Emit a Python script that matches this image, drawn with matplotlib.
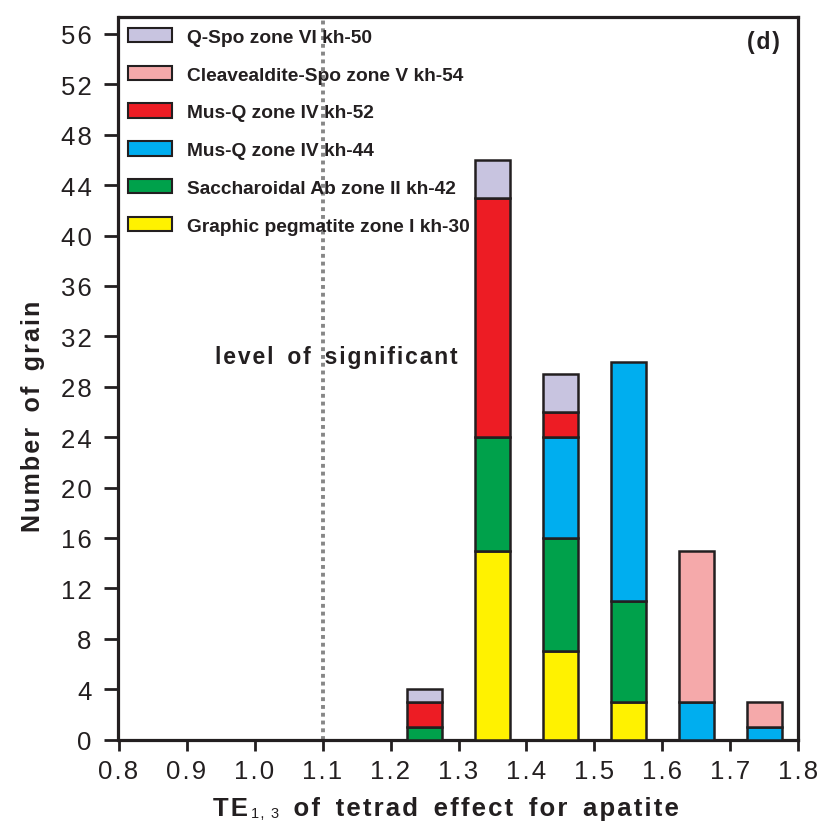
import numpy as np
import matplotlib
matplotlib.use('Agg')
import matplotlib.pyplot as plt
from matplotlib.patches import Patch

plt.rcParams['font.family'] = ['Liberation Sans', 'DejaVu Sans']

# ── data ──
bins = [1.25, 1.35, 1.45, 1.55, 1.65, 1.75]
kh30 = [0, 15, 7, 3, 0, 0]    # Graphic pegmatite zone I
kh42 = [1, 9, 9, 8, 0, 0]     # Saccharoidal Ab zone II
kh44 = [0, 0, 8, 19, 3, 1]    # Mus-Q zone IV kh-44
kh52 = [2, 19, 2, 0, 0, 0]    # Mus-Q zone IV kh-52
kh54 = [0, 0, 0, 0, 12, 2]    # Cleavealdite-Spo zone V
kh50 = [1, 3, 3, 0, 0, 0]     # Q-Spo zone VI

series = [kh30, kh42, kh44, kh52, kh54, kh50]
labels = ['Graphic pegmatite zone I kh-30',
          'Saccharoidal Ab zone II kh-42',
          'Mus-Q zone IV kh-44',
          'Mus-Q zone IV kh-52',
          'Cleavealdite-Spo zone V kh-54',
          'Q-Spo zone VI kh-50']
colors = ['#FFF200', '#00A14B', '#00AEEF', '#ED1C24', '#F5A9AA', '#C8C4E0']
edge = '#231F20'
ink = '#231F20'

# 字间距: 用细空格模拟 letter spacing
HAIR, SIXTH = '\u200a', '\u2006'


def track(s, word=SIXTH):
    return HAIR.join(s).replace(' ', ' ' + word)


W, H = 820, 829
fig = plt.figure(figsize=(W / 100, H / 100), dpi=100)
ax = fig.add_axes([118.5 / W, (H - 740.5) / H, 680 / W, (740.5 - 17.8) / H])

x = np.array(bins)
bottom = np.zeros(len(bins))
for vals, col in zip(series, colors):
    v = np.array(vals, dtype=float)
    m = v > 0
    ax.bar(x[m], v[m], width=0.051, bottom=bottom[m], color=col,
           edgecolor=edge, linewidth=1.8, zorder=3)
    bottom += v

# 显著性水平线
ax.axvline(1.1, color='#878787', linestyle=(0, (1, 1)), linewidth=2.8, zorder=1)
ax.text(1.121, 30.4, track('level of significant'), fontsize=16.5,
        fontweight='bold', ha='center', va='center', color=ink, zorder=4)
ax.text(0.9728, 0.982, track('(d)'), transform=ax.transAxes,
        fontsize=16.5, fontweight='bold', ha='right', va='top', color=ink)

ax.set_xlim(0.8, 1.8)
ax.set_ylim(0, 57.36)
xt = np.round(np.arange(0.8, 1.81, 0.1), 1)
yt = np.arange(0, 57, 4)
ax.set_xticks(xt)
ax.set_xticklabels([track(f'{t:.1f}') for t in xt])
ax.set_yticks(yt)
ax.set_yticklabels([track(str(t)) for t in yt])
ax.tick_params(axis='x', direction='out', length=8, width=2, labelsize=18.5,
               colors=ink, pad=6)
ax.tick_params(axis='y', direction='out', length=10, width=2, labelsize=18.5,
               colors=ink, pad=9.5)
for s in ax.spines.values():
    s.set_linewidth(2.3)
    s.set_color(ink)

# y 轴标题
fig.text(33.5 / W, (H - 416) / H, track('Number of grain'), rotation=90,
         fontsize=18, fontweight='bold', ha='center', va='center', color=ink)

# x 轴标题: TE + 下标 1,3 + 其余文字
te = fig.text(213 / W, (H - 816) / H, track('TE'), fontsize=18.5,
              fontweight='bold', ha='left', va='baseline', color=ink)
sub = ax.annotate(track('1, 3', ''), xy=(1, 0), xycoords=te, xytext=(2, 2.2),
                  textcoords='offset points', fontsize=10.5, ha='left',
                  va='baseline', color=ink, annotation_clip=False)
rest = ax.annotate(track(' of tetrad effect for apatite'), xy=(1, 0),
                   xycoords=(sub, te), xytext=(1, 0), textcoords='offset points',
                   fontsize=18.5, fontweight='bold', ha='left', va='bottom',
                   color=ink, annotation_clip=False)

handles = [Patch(facecolor=c, edgecolor=edge, linewidth=1.5, label=l)
           for c, l in zip(colors, labels)][::-1]
leg = ax.legend(handles=handles, loc='upper left', bbox_to_anchor=(0.0, 0.998),
                frameon=False, prop={'size': 13.8, 'weight': 'bold'},
                handlelength=2.29, handleheight=0.78, handletextpad=0.78,
                labelspacing=1.04, borderaxespad=0.0, borderpad=0.5)
for t in leg.get_texts():
    t.set_color(ink)

plt.savefig('out.png', dpi=100)
plt.close()
